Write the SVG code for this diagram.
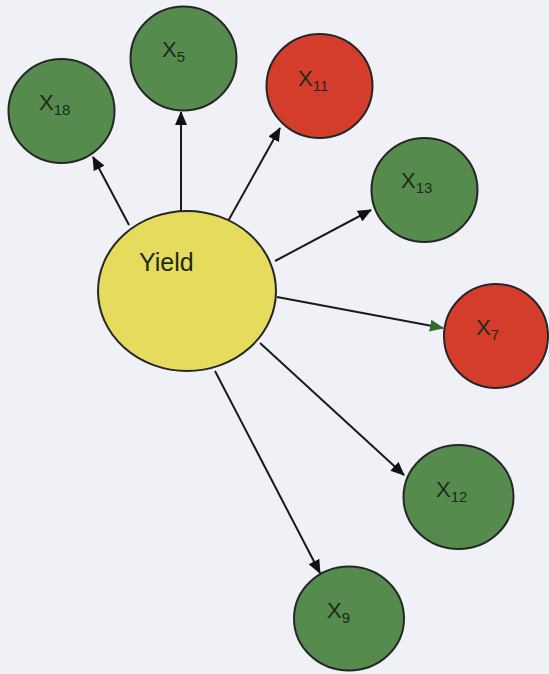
<svg xmlns="http://www.w3.org/2000/svg" width="549" height="674" viewBox="0 0 549 674">
<style>
.node{stroke:#262626;stroke-width:2}
.g{fill:#558c4d}
.r{fill:#d43d2c}
.y{fill:#e5db5c}
.lbl{font-family:"Liberation Sans",Arial,sans-serif;font-size:22px;fill:#1e2a1e}
.sub{font-size:15px}
.edge{stroke:#1a1a1a;stroke-width:2;fill:none}
</style>
<defs>
<marker id="ah" markerUnits="userSpaceOnUse" markerWidth="14" markerHeight="12" refX="13" refY="6" orient="auto">
<path d="M0,0 L14,6 L0,12 z" fill="#111"/>
</marker>
<marker id="ahg" markerUnits="userSpaceOnUse" markerWidth="14" markerHeight="12" refX="13" refY="6" orient="auto">
<path d="M0,0 L14,6 L0,12 z" fill="#2f6a2c"/>
</marker>
</defs>
<rect width="549" height="674" fill="#f0f1f6"/>
<g id="connectors">
<line class="edge" x1="129" y1="225" x2="93" y2="157" marker-end="url(#ah)"/>
<line class="edge" x1="181" y1="211" x2="181" y2="112" marker-end="url(#ah)"/>
<line class="edge" x1="227" y1="223" x2="280" y2="128" marker-end="url(#ah)"/>
<line class="edge" x1="275" y1="261" x2="371" y2="210" marker-end="url(#ah)"/>
<line class="edge" x1="277" y1="297" x2="443" y2="328" marker-end="url(#ahg)"/>
<line class="edge" x1="260" y1="343" x2="404" y2="475" marker-end="url(#ah)"/>
<line class="edge" x1="215" y1="371" x2="320" y2="573" marker-end="url(#ah)"/>
</g>
<g id="yield">
<ellipse class="node y" cx="187" cy="291" rx="89" ry="80"/>
<text class="lbl" x="139" y="271" style="font-size:25px">Yield</text>
</g>
<g id="x18">
<ellipse class="node g" cx="61.5" cy="111" rx="53" ry="52"/>
<text class="lbl" x="39" y="110">X<tspan class="sub" dy="5">18</tspan></text>
</g>
<g id="x5">
<ellipse class="node g" cx="183.5" cy="58.5" rx="53" ry="52"/>
<text class="lbl" x="162" y="57">X<tspan class="sub" dy="5">5</tspan></text>
</g>
<g id="x11">
<ellipse class="node r" cx="319.5" cy="86" rx="53" ry="52"/>
<text class="lbl" x="298" y="86">X<tspan class="sub" dy="5">11</tspan></text>
</g>
<g id="x13">
<ellipse class="node g" cx="424.5" cy="190" rx="53" ry="52"/>
<text class="lbl" x="401" y="188">X<tspan class="sub" dy="5">13</tspan></text>
</g>
<g id="x7">
<ellipse class="node r" cx="496" cy="336" rx="52" ry="52"/>
<text class="lbl" x="476" y="335">X<tspan class="sub" dy="5">7</tspan></text>
</g>
<g id="x12">
<ellipse class="node g" cx="458.5" cy="497" rx="55" ry="52"/>
<text class="lbl" x="436" y="497">X<tspan class="sub" dy="5">12</tspan></text>
</g>
<g id="x9">
<ellipse class="node g" cx="349" cy="618.5" rx="55" ry="52"/>
<text class="lbl" x="327" y="618">X<tspan class="sub" dy="5">9</tspan></text>
</g>
</svg>
